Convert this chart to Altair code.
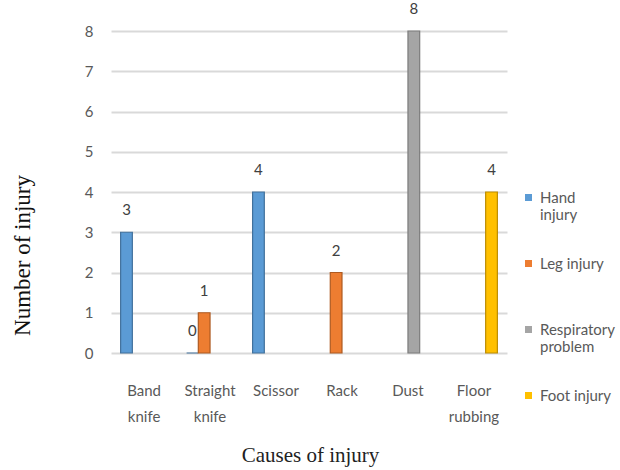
import altair as alt
import pandas as pd

categories = ["Band knife", "Straight knife", "Scissor", "Rack", "Dust", "Floor rubbing"]
series = ["Hand injury", "Leg injury", "Respiratory problem", "Foot injury"]

bar_category = ["Band knife", "Straight knife", "Straight knife", "Scissor", "Rack", "Dust", "Floor rubbing"]
bar_series = ["Hand injury", "Hand injury", "Leg injury", "Hand injury", "Leg injury", "Respiratory problem", "Foot injury"]
bar_values = [3, 0, 1, 4, 2, 8, 4]

y_ticks = [0, 1, 2, 3, 4, 5, 6, 7, 8]

colors = ["#5B9BD5", "#ED7D31", "#A5A5A5", "#FFC000"]
edge_colors = ["#41719C", "#AE5A21", "#7C7C7C", "#BC8C00"]

df = pd.DataFrame({"cause": bar_category, "type": bar_series, "count": bar_values})

label_font = "Lato, Liberation Sans, sans-serif"
title_font = "Liberation Serif, Times New Roman, serif"

x_enc = alt.X(
    "cause:N",
    sort=categories,
    scale=alt.Scale(domain=categories, paddingInner=0.29, paddingOuter=0.146),
    axis=alt.Axis(
        title="Causes of injury",
        labelExpr="split(datum.label, ' ')",
        labelAngle=0,
        labelFont=label_font,
        labelFontSize=15,
        labelColor="#595959",
        labelPadding=37,
        labelLineHeight=26,
        labelBaseline="middle",
        ticks=False,
        domain=False,
        titleFont=title_font,
        titleFontSize=21,
        titleFontWeight="normal",
        titleColor="#222222",
        titleX=199,
        titleY=102,
        titleBaseline="middle",
        titleAlign="center",
    ),
)
xoff_enc = alt.XOffset("type:N", sort=series, scale=alt.Scale(domain=series, paddingInner=0, paddingOuter=0))
y_enc = alt.Y(
    "count:Q",
    scale=alt.Scale(domain=[0, 8], nice=False),
    axis=alt.Axis(
        title="Number of injury",
        values=y_ticks,
        format="d",
        labelFont=label_font,
        labelFontSize=15,
        labelColor="#595959",
        labelPadding=18,
        ticks=False,
        domain=False,
        grid=True,
        gridColor="#D9D9D9",
        gridWidth=2,
        titleFont=title_font,
        titleFontSize=23,
        titleFontWeight="normal",
        titleColor="#111111",
        titleX=-89,
        titleY=224,
        titleBaseline="middle",
        titleAlign="center",
        titleAngle=270,
    ),
)

color_enc = alt.Color(
    "type:N",
    sort=series,
    scale=alt.Scale(domain=series, range=colors),
    legend=alt.Legend(
        title=None,
        orient="none",
        legendX=410,
        legendY=159,
        padding=0,
        symbolType="square",
        symbolSize=49,
        symbolStrokeWidth=0,
        labelFont=label_font,
        labelFontSize=15,
        labelColor="#595959",
        labelOffset=4,
        labelLimit=0,
        gridAlign="all",
        rowPadding=33,
        labelExpr="datum.label == 'Hand injury' ? ['Hand', 'injury'] : datum.label == 'Respiratory problem' ? ['Respiratory', 'problem'] : datum.label",
    ),
)

bars = alt.Chart(df).mark_bar(strokeWidth=1.2).encode(
    x=x_enc,
    xOffset=xoff_enc,
    y=y_enc,
    color=color_enc,
    stroke=alt.Stroke("type:N", scale=alt.Scale(domain=series, range=edge_colors), legend=None),
)

texts = alt.Chart(df).mark_text(
    dy=-22, baseline="middle", font=label_font, fontSize=15, color="#404040"
).encode(
    x=alt.X("cause:N", sort=categories),
    xOffset=alt.XOffset("type:N", sort=series),
    y=alt.Y("count:Q"),
    text=alt.Text("count:Q", format="d"),
)

chart = (
    alt.layer(bars, texts)
    .properties(
        width=396,
        height=322,
        autosize=alt.AutoSizeParams(type="none"),
        padding={"left": 111, "top": 31, "right": 113, "bottom": 117},
        background="white",
    )
    .configure_view(stroke=None)
)

chart.save("out.html", embed_options={"renderer": "svg", "actions": False})
